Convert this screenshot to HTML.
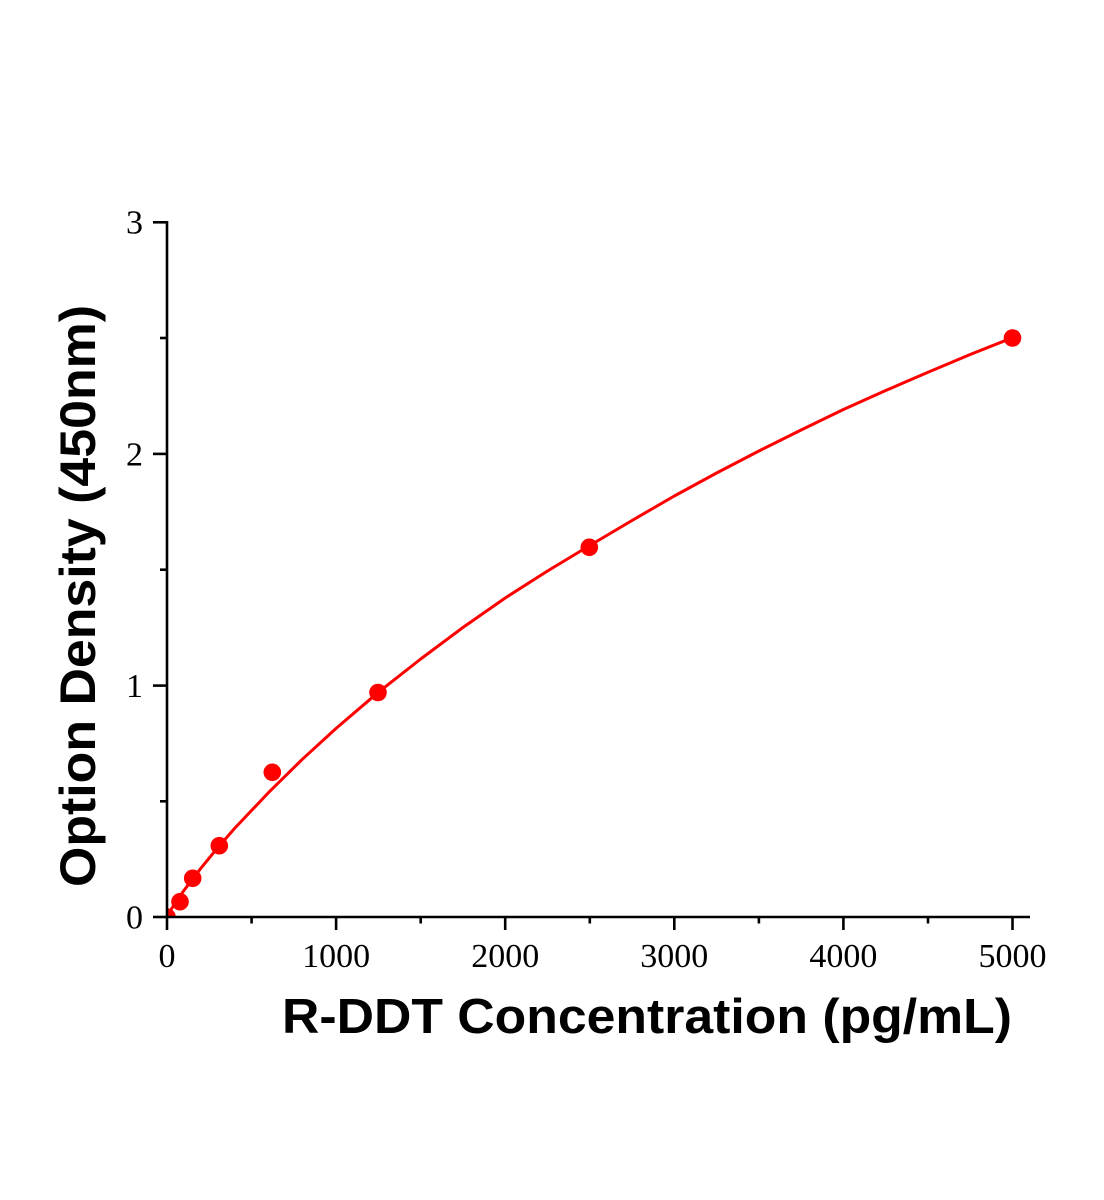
<!DOCTYPE html>
<html>
<head>
<meta charset="utf-8">
<style>
  html, body { margin: 0; padding: 0; background: #ffffff; }
  svg { display: block; }
</style>
</head>
<body>
<svg width="1104" height="1200" viewBox="0 0 1104 1200" xmlns="http://www.w3.org/2000/svg">
  <rect width="1104" height="1200" fill="#ffffff"/>
  <defs>
    <clipPath id="plot">
      <rect x="167" y="150" width="900" height="767"/>
    </clipPath>
  </defs>

  <!-- curve -->
  <g clip-path="url(#plot)">
    <polyline fill="none" stroke="#ff0000" stroke-width="3" stroke-linejoin="round" stroke-linecap="round"
      points="167,917 171.2,909.3 175.5,902.7 183.9,890.5 200.8,868.3 217.7,847.7 234.6,828.4 268.5,792.6 302.3,759.3 336.1,728.4 378.4,692.2 420.7,659.0 462.9,627.5 505.2,598.0 547.5,571.0 589.8,545.5 632,520.5 674.3,496.0 716.6,473.0 758.9,451.0 801.1,430.0 843.4,409.5 885.7,390.5 928.0,372.2 970.2,354.5 1012.5,337.7"/>
    <g fill="#ff0000">
      <circle cx="167" cy="917" r="8.8"/>
      <circle cx="180" cy="901.7" r="8.8"/>
      <circle cx="192.7" cy="878.3" r="8.8"/>
      <circle cx="219.3" cy="845.7" r="8.8"/>
      <circle cx="272.3" cy="772.3" r="8.8"/>
      <circle cx="378" cy="692.5" r="8.8"/>
      <circle cx="589.3" cy="547.3" r="8.8"/>
      <circle cx="1012.5" cy="338" r="8.8"/>
    </g>
  </g>

  <!-- axes -->
  <g stroke="#000" stroke-width="2.6" fill="none">
    <line x1="167" y1="221" x2="167" y2="918"/>
    <line x1="166" y1="917" x2="1030" y2="917"/>
    <!-- y major ticks -->
    <line x1="153" y1="917" x2="167" y2="917"/>
    <line x1="153" y1="685.6" x2="167" y2="685.6"/>
    <line x1="153" y1="453.9" x2="167" y2="453.9"/>
    <line x1="153" y1="222.3" x2="167" y2="222.3"/>
    <!-- y minor ticks -->
    <line x1="160" y1="801.3" x2="167" y2="801.3"/>
    <line x1="160" y1="569.7" x2="167" y2="569.7"/>
    <line x1="160" y1="338" x2="167" y2="338"/>
    <!-- x major ticks -->
    <line x1="167" y1="917" x2="167" y2="930"/>
    <line x1="336.1" y1="917" x2="336.1" y2="930"/>
    <line x1="505.2" y1="917" x2="505.2" y2="930"/>
    <line x1="674.3" y1="917" x2="674.3" y2="930"/>
    <line x1="843.4" y1="917" x2="843.4" y2="930"/>
    <line x1="1012.5" y1="917" x2="1012.5" y2="930"/>
    <!-- x minor ticks -->
    <line x1="251.6" y1="917" x2="251.6" y2="923.5"/>
    <line x1="420.7" y1="917" x2="420.7" y2="923.5"/>
    <line x1="589.8" y1="917" x2="589.8" y2="923.5"/>
    <line x1="758.9" y1="917" x2="758.9" y2="923.5"/>
    <line x1="928" y1="917" x2="928" y2="923.5"/>
  </g>

  <!-- tick labels -->
  <g font-family="'Liberation Serif', 'Times New Roman', serif" font-size="34" fill="#000">
    <g text-anchor="end">
      <text x="143" y="928.5">0</text>
      <text x="143" y="697">1</text>
      <text x="143" y="465.3">2</text>
      <text x="143" y="233.7">3</text>
    </g>
    <g text-anchor="middle">
      <text x="167" y="967">0</text>
      <text x="336.1" y="967">1000</text>
      <text x="505.2" y="967">2000</text>
      <text x="674.3" y="967">3000</text>
      <text x="843.4" y="967">4000</text>
      <text x="1012.5" y="967">5000</text>
    </g>
  </g>

  <!-- axis titles -->
  <text x="282" y="1033" font-family="'Liberation Sans', Arial, sans-serif" font-weight="bold" font-size="49"
        textLength="730" lengthAdjust="spacingAndGlyphs" fill="#000">R-DDT Concentration (pg/mL)</text>
  <text transform="translate(95,887) rotate(-90)" x="0" y="0" font-family="'Liberation Sans', Arial, sans-serif"
        font-weight="bold" font-size="50" textLength="582" lengthAdjust="spacingAndGlyphs" fill="#000">Option Density (450nm)</text>
</svg>
</body>
</html>
